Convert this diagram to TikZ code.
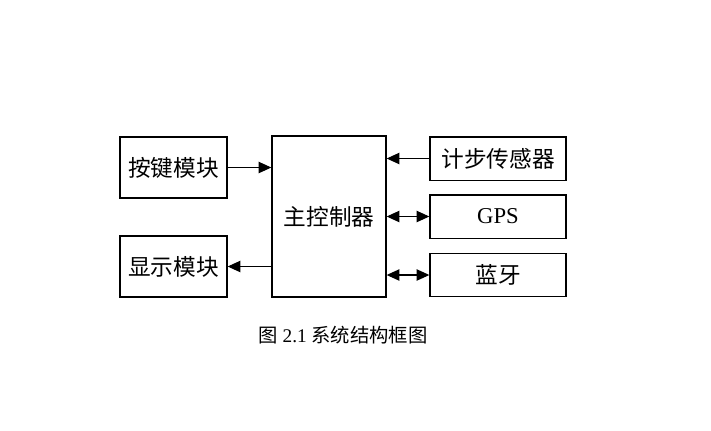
\documentclass[tikz,border=0pt]{standalone}
\usepackage{fontspec}
\setmainfont{Liberation Serif}
\newfontfamily\cjk{Noto Sans CJK SC}
\usetikzlibrary{arrows.meta}

\tikzset{
  blockbox/.style={draw, line width=1pt, inner sep=0pt, font=\fontsize{17}{20}\selectfont},
  sidebox/.style={blockbox, minimum width=102pt, minimum height=32.5pt},
  link/.style={line width=0.8pt, -{Triangle[length=9.5pt, width=8.5pt]}},
  duplex/.style={line width=0.8pt, {Triangle[length=9.5pt, width=8.5pt]}-{Triangle[length=9.5pt, width=8.5pt]}}
}

\begin{document}
\begin{tikzpicture}[x=0.75pt,y=0.75pt,yscale=-1,xscale=1]
\path[use as bounding box] (0,0) rectangle (711,430);

% left blocks
\node (keys) [blockbox, minimum width=80.25pt, minimum height=45.75pt] at (173.5,167.5) {\cjk 按键模块};
\node (disp) [blockbox, minimum width=80.25pt, minimum height=45.75pt] at (173.5,266.5) {\cjk 显示模块};
% main controller
\node (mcu) [blockbox, minimum width=85.5pt, minimum height=120.75pt] at (329,216.5) {\cjk 主控制器};
% right blocks
\node (pedo) [sidebox] at (498,158.5) {\cjk 计步传感器};
\node (gps) [sidebox] at (498,216.5) {GPS};
\node (blue) [sidebox] at (498,275) {\cjk 蓝牙};

% connectors
\draw [link] (keys.east) -- (mcu.west |- keys.east);
\draw [link] (mcu.west |- disp.east) -- (disp.east);
\draw [link] (pedo.west) -- (mcu.east |- pedo.west);
\draw [duplex] (mcu.east |- gps.west) -- (gps.west);
\draw [duplex] (mcu.east |- blue.west) -- (blue.west);

% caption
\node (cap) [font=\fontsize{14.5}{17}\selectfont] at (343,335) {{\cjk 图} 2.1 {\cjk 系统结构框图}};

\end{tikzpicture}
\end{document}
